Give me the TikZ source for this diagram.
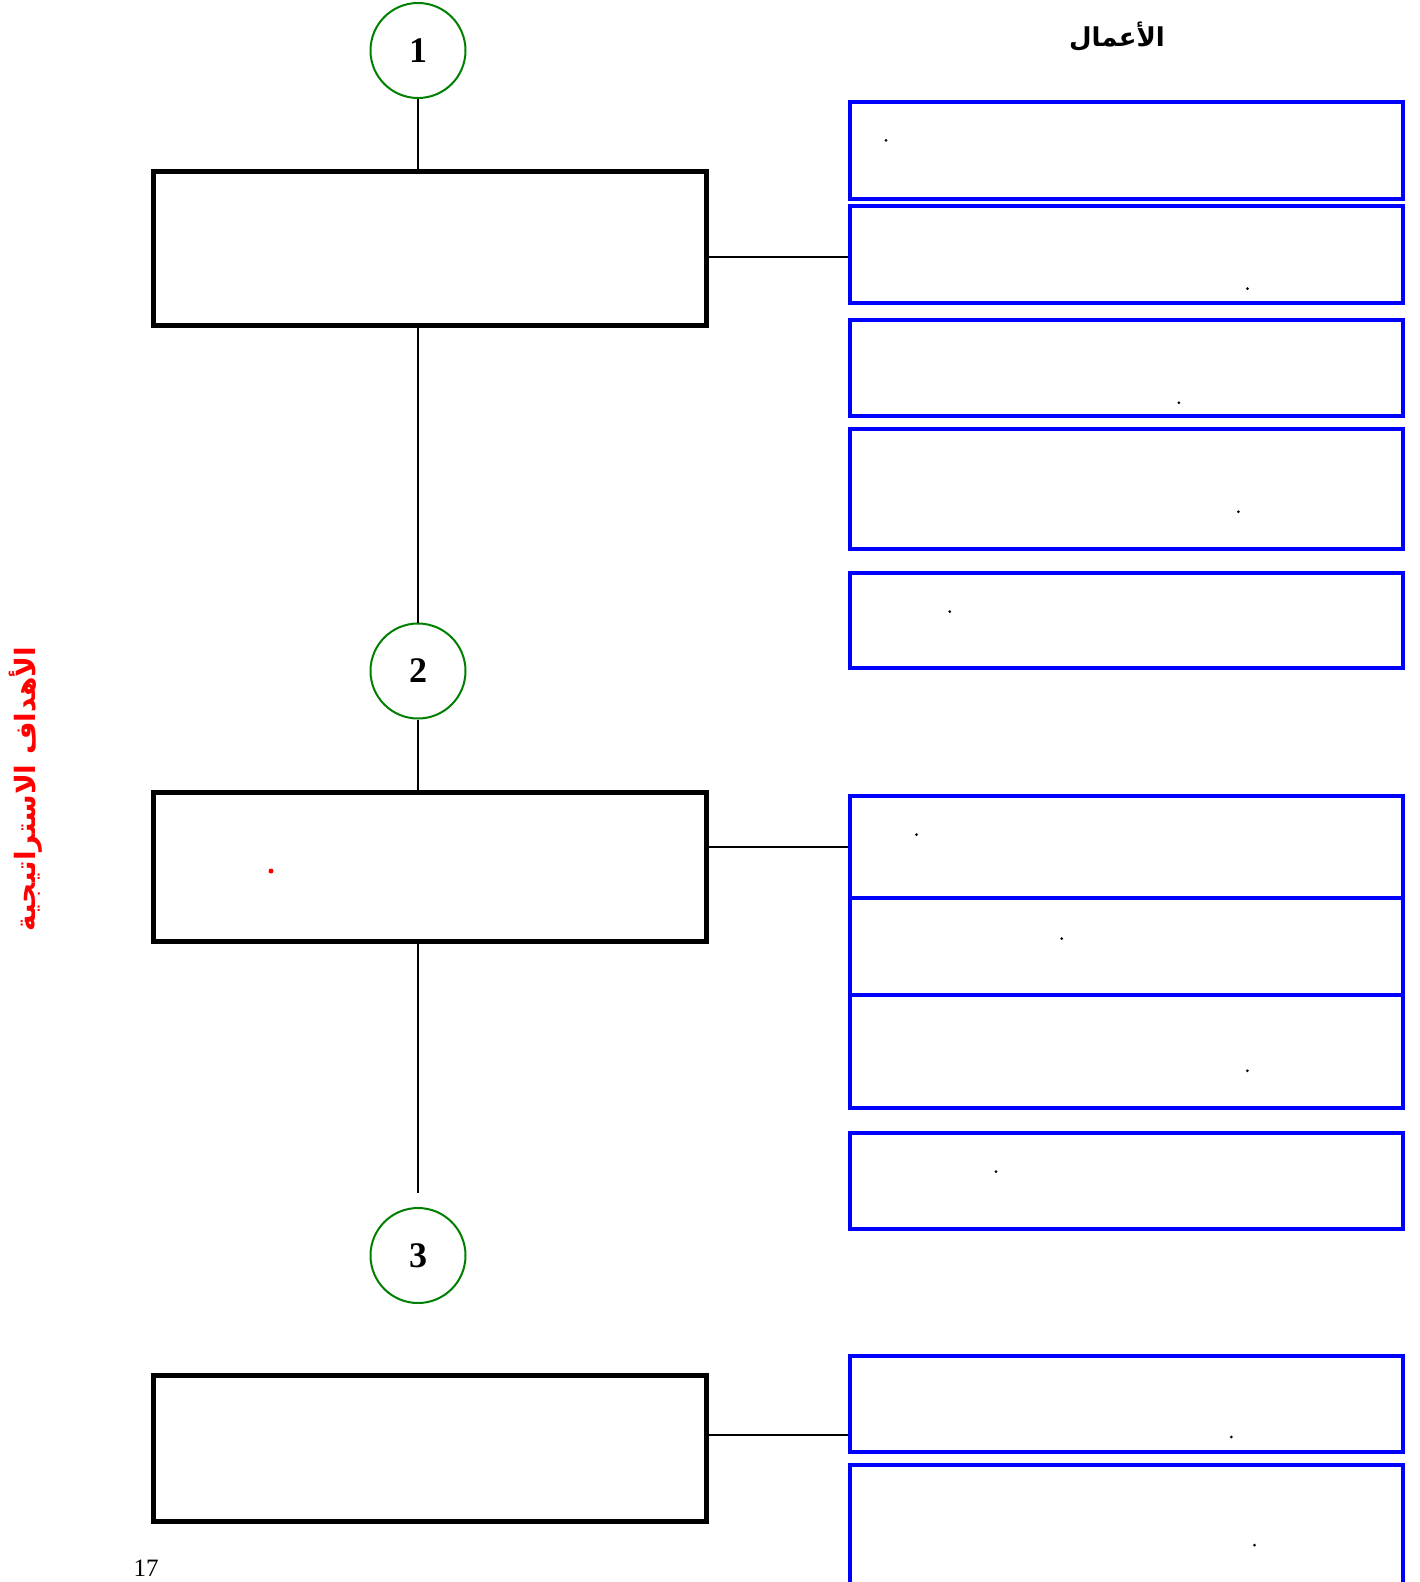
\documentclass[tikz,border=0pt]{standalone}
\usepackage{fontspec}
\setmainfont{Liberation Serif}
\newfontfamily\arabicfont[Script=Arabic]{DejaVu Sans}
\TeXXeTstate=1
\definecolor{cgreen}{RGB}{0,128,0}
\definecolor{cblue}{RGB}{0,0,255}
\definecolor{cred}{RGB}{255,0,0}
\tikzset{
  goalbox/.style={draw=black, line width=5pt, fill=white, rectangle, inner sep=0pt, minimum width=553pt},
  actbox/.style={draw=cblue, line width=4pt, fill=white, rectangle, inner sep=0pt, minimum width=553pt},
  numcirc/.style={draw=cgreen, line width=2pt, circle, inner sep=0pt, minimum size=95pt, font=\fontsize{36}{40}\selectfont\bfseries},
  conn/.style={draw=black, line width=2pt},
  period/.style={fill=black, circle, inner sep=0pt, minimum size=3pt},
}
\begin{document}
\begin{tikzpicture}[x=1pt,y=-1pt]
\useasboundingbox (0,0) rectangle (1420,1582);
\clip (0,0) rectangle (1420,1582);
\fill[white] (0,0) rectangle (1420,1582);

% title
\node (title) at (1117,37) {\arabicfont\bfseries\fontsize{26}{30}\selectfont\beginR الأعمال\endR};
% side label
\node[rotate=90, text=cred] (side) at (26,789) {\arabicfont\bfseries\fontsize{28}{30}\selectfont\beginR الأهداف الاستراتيجية\endR};

% circles
\node[numcirc] (c1) at (418,50.5) {1};
\node[numcirc] (c2) at (418,671) {2};
\node[numcirc] (c3) at (418,1255.5) {3};

% goal boxes
\node[goalbox, minimum height=153.4pt] (b1) at (430,248.3) {};
\node[goalbox, minimum height=149.6pt] (b2) at (430,866.8) {};
\node[goalbox, minimum height=145.4pt] (b3) at (430,1448.3) {};

% action boxes
\node[actbox, minimum height=96.8pt] (a1) at (1126.3,150.4) {};
\node[actbox, minimum height=96.8pt] (a2) at (1126.3,254.4) {};
\node[actbox, minimum height=95.8pt] (a3) at (1126.3,367.9) {};
\node[actbox, minimum height=120pt] (a4) at (1126.3,489) {};
\node[actbox, minimum height=94.8pt] (a5) at (1126.3,620.6) {};
\node[actbox, minimum height=101.9pt] (a6) at (1126.3,847.2) {};
\node[actbox, minimum height=96.8pt] (a7) at (1126.3,946.6) {};
\node[actbox, minimum height=113pt] (a8) at (1126.3,1051.5) {};
\node[actbox, minimum height=95.9pt] (a9) at (1126.3,1181.3) {};
\node[actbox, minimum height=95.9pt] (a10) at (1126.3,1404.3) {};
\node[actbox, minimum height=155pt] (a11) at (1126.3,1542) {};

% vertical connectors
\coordinate (end2) at (418,1193);
\draw[conn] (c1.south) -- (c1.south |- b1.north);
\draw[conn] (c1.south |- b1.south) -- (c2.north);
\draw[conn] (c2.south) -- (c2.south |- b2.north);
\draw[conn] (c2.south |- b2.south) -- (end2);

% horizontal connectors
\coordinate (h1) at (780,256.5);
\draw[conn] (h1 -| b1.east) -- (h1 -| a2.west);
\draw[conn] (a6.west -| b2.east) -- (a6.west);
\coordinate (h3) at (780,1435);
\draw[conn] (h3 -| b3.east) -- (h3 -| a10.west);

% periods in action boxes
\node[period] (p1) at (886,140.3) {};
\node[period] (p2) at (1247.4,288.6) {};
\node[period] (p3) at (1178.8,402.7) {};
\node[period] (p4) at (1238.3,511.7) {};
\node[period] (p5) at (949.7,611.6) {};
\node[period] (p6) at (916.4,834.6) {};
\node[period] (p7) at (1061.7,938.6) {};
\node[period] (p8) at (1247.4,1070.8) {};
\node[period] (p9) at (996,1171.7) {};
\node[period] (p10) at (1231.3,1437) {};
\node[period] (p11) at (1254.5,1545.1) {};
\node[fill=cred, circle, inner sep=0pt, minimum size=5pt] (pr) at (271,871) {};

% page number
\node[anchor=base, inner sep=0pt] (page) at (146,1576) {\fontsize{25}{27}\selectfont 17};
\end{tikzpicture}
\end{document}
